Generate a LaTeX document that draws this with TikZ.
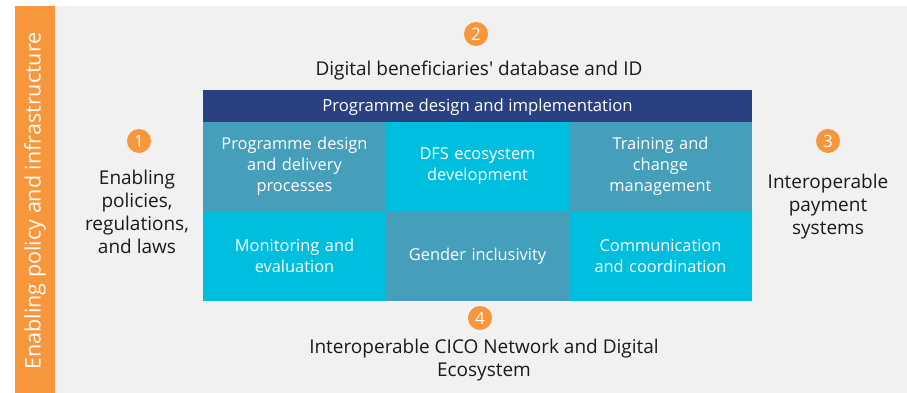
\documentclass[tikz,border=0pt]{standalone}
\usepackage{fontspec}
\setmainfont{Open Sans}
\usepackage{tikz}
\usetikzlibrary{positioning}
\definecolor{barorange}{HTML}{F7963A}
\definecolor{panelgrey}{HTML}{F1F1F1}
\definecolor{headerblue}{HTML}{2A4181}
\definecolor{cellteal}{HTML}{469FBA}
\definecolor{cellcyan}{HTML}{00BEDE}
\definecolor{bodytext}{HTML}{1A1A1A}

\tikzset{
    cell/.style={minimum width=183pt, minimum height=89.5pt, inner sep=0pt, text width=178pt, align=center, text=white, font=\fontsize{16.4}{21}\selectfont},
    badge/.style={circle, fill=barorange, minimum size=24pt, inner sep=0pt, text=white, font=\fontsize{17}{17}\selectfont},
    sidetext/.style={align=center, text=bodytext, font=\fontsize{19}{23}\selectfont}
}

\begin{document}
\begin{tikzpicture}[x=1pt, y=-1pt]
    \useasboundingbox (0,0) rectangle (907,393);
    \fill[white] (0,0) rectangle (907,393);
    \fill[panelgrey] (55,6) rectangle (907,393);
    \node[fill=barorange, minimum width=40pt, minimum height=387pt, inner sep=0pt, anchor=north west] (bar) at (15,6) {};
    \node[rotate=90, text=white, font=\fontsize{21.5}{21.5}\selectfont] (bartext) at (35,201) {Enabling policy and infrastructure};

    % programme block
    \node[fill=headerblue, minimum width=549pt, minimum height=32pt, inner sep=0pt, text height=12pt, text depth=0pt, text=white, font=\fontsize{16.7}{16.7}\selectfont] (header) at (477.5,106) {Programme design and implementation};
    \node[cell, fill=cellteal] (process) at (294.5,166.5) {Programme design\\and delivery\\processes};
    \node[cell, fill=cellcyan] (dfs) at (477.5,166.5) {DFS ecosystem\\development};
    \node[cell, fill=cellteal] (training) at (660.5,166.5) {Training and\\change\\management};
    \node[cell, fill=cellcyan] (monitoring) at (294.5,256) {Monitoring and\\evaluation};
    \node[cell, fill=cellteal] (gender) at (477.5,256) {Gender inclusivity};
    \node[cell, fill=cellcyan] (communication) at (660.5,256) {Communication\\and coordination};

    % numbered pillars
    \node[badge] (one) at (139,141) {1};
    \node[sidetext] (policies) at (137,211.5) {Enabling\\policies,\\regulations,\\and laws};
    \node[badge] (two) at (476,34) {2};
    \node[sidetext] (database) at (479,71) {Digital beneficiaries\textquotesingle\ database and ID};
    \node[badge] (three) at (828,141) {3};
    \node[sidetext] (payment) at (828,207) {Interoperable\\payment\\systems};
    \node[badge] (four) at (480,318) {4};
    \node[sidetext] (cico) at (484,360.5) {Interoperable CICO Network and Digital\\Ecosystem};
\end{tikzpicture}
\end{document}
